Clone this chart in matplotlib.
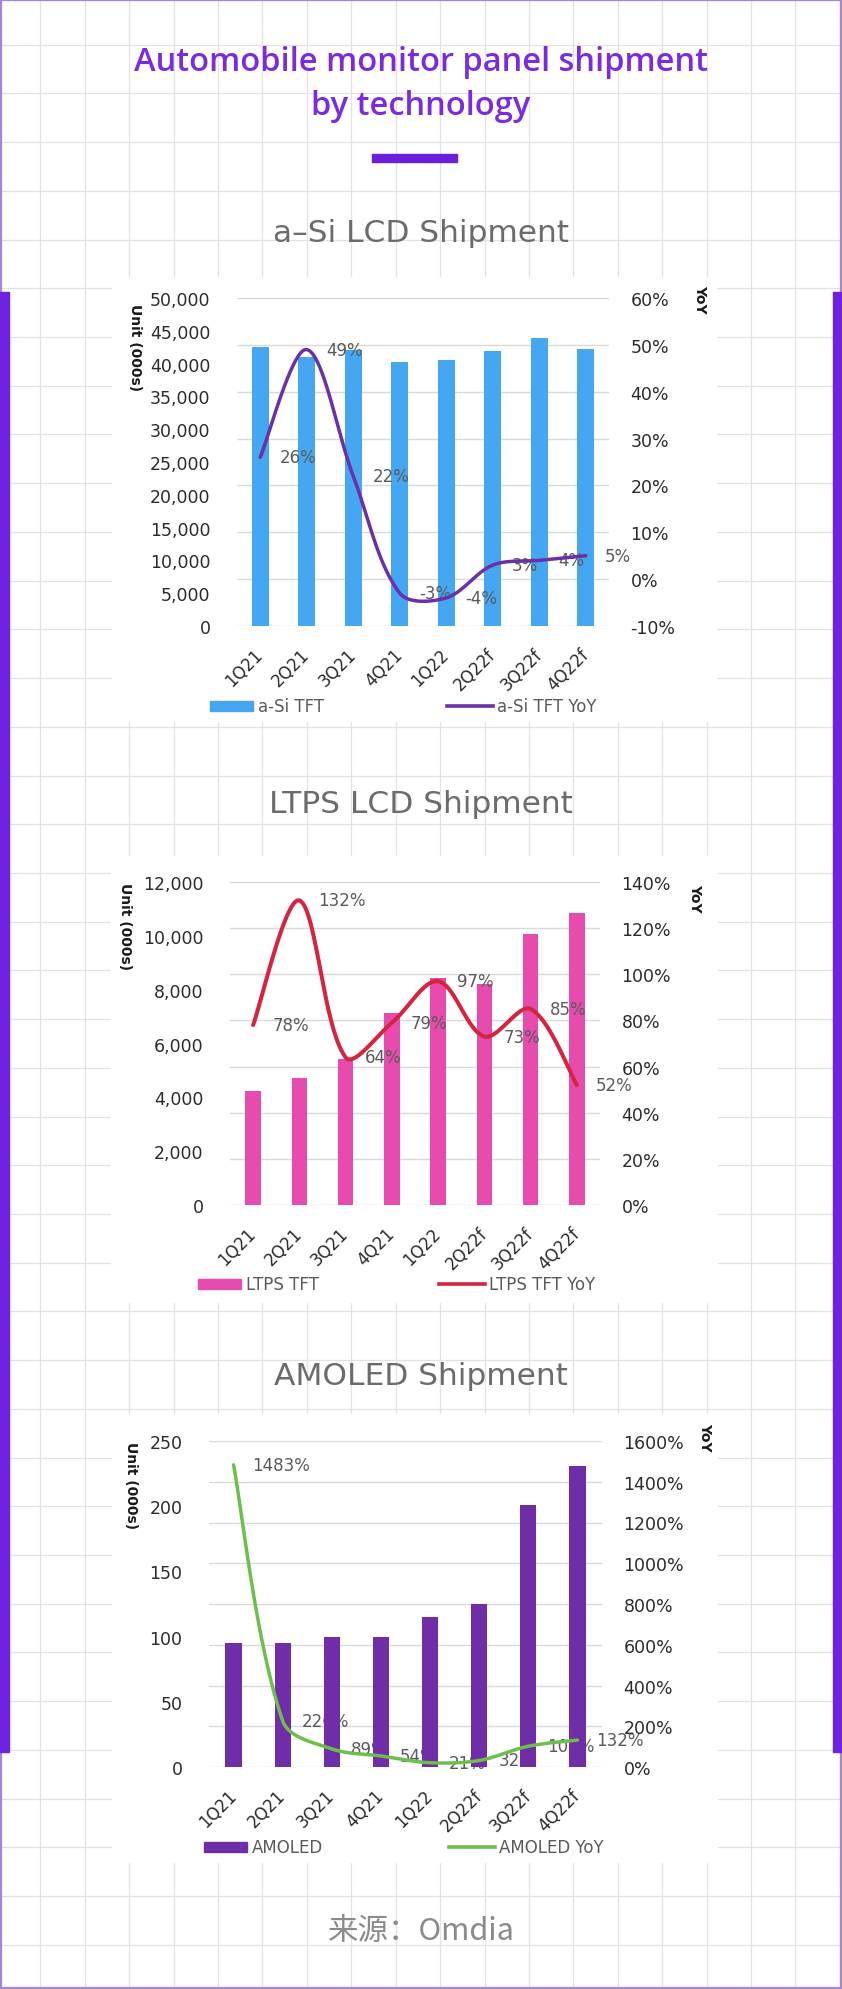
import numpy as np
import matplotlib
matplotlib.use("Agg")
import matplotlib.pyplot as plt
from matplotlib.patches import Rectangle

# quarters shared by the three panels
quarters = ["1Q21", "2Q21", "3Q21", "4Q21", "1Q22", "2Q22f", "3Q22f", "4Q22f"]

# a-Si LCD, units in 000s and YoY in %
asi_units = [42500, 41000, 42000, 40200, 40500, 41900, 43900, 42200]
asi_yoy = [26, 49, 22, -3, -4, 3, 4, 5]

# LTPS LCD
ltps_units = [4250, 4720, 5430, 7130, 8430, 8220, 10080, 10860]
ltps_yoy = [78, 132, 64, 79, 97, 73, 85, 52]

# AMOLED
amoled_units = [95, 95, 100, 100, 115, 125, 201, 231]
amoled_yoy = [1483, 226, 89, 54, 21, 32, 102, 132]

W, H = 842, 1990
fig = plt.figure(figsize=(W / 100, H / 100), dpi=100)

# background layer in pixel coords
bg = fig.add_axes([0, 0, 1, 1])
bg.set_xlim(0, W)
bg.set_ylim(H, 0)
bg.axis("off")
for x in np.arange(40.3, W, 44.42):
    bg.plot([x, x], [0, H], color="#e2e2e2", lw=0.9, zorder=0)
for y in np.arange(45.7, H, 48.72):
    bg.plot([0, W], [y, y], color="#e2e2e2", lw=0.9, zorder=0)

bg.add_patch(Rectangle((1, 1), W - 2, H - 2, fill=False, ec="#a584dc", lw=1.6, zorder=1))
bg.add_patch(Rectangle((0, 293), 9, 1460, color="#6e22dd", zorder=2))
bg.add_patch(Rectangle((833, 293), 9, 1460, color="#6e22dd", zorder=2))

title_lines = ["Automobile monitor panel shipment", "by technology"]
for i, line in enumerate(title_lines):
    bg.text(421, 71 + 44 * i, line, ha="center", va="baseline", fontsize=23.5,
            family="Open Sans", fontweight="semibold", color="#7a2be2")
bg.add_patch(Rectangle((372, 155), 85, 8, color="#6a1fd9", zorder=2))

bg.text(421, 1940, "来源：Omdia", ha="center", va="baseline", fontsize=22,
        family=["Noto Sans CJK SC", "DejaVu Sans"], color="#8a8a8a")


def smooth(ys, sx, sy, n=40):
    # bezier through the points, tangents weighted by segment length (pixel space)
    p = np.column_stack([np.arange(len(ys)) * sx, np.asarray(ys, float) * sy])
    out = []
    for i in range(len(p) - 1):
        p1, p2 = p[i], p[i + 1]
        p0 = p[i - 1] if i > 0 else p1
        p3 = p[i + 2] if i + 2 < len(p) else p2
        l01 = np.hypot(*(p1 - p0))
        l12 = np.hypot(*(p2 - p1))
        l23 = np.hypot(*(p3 - p2))
        if l01 == 0:
            l01 = l12
        if l23 == 0:
            l23 = l12
        c1 = p1 + (p2 - p0) * l12 / (l01 + l12) / 3
        c2 = p2 - (p3 - p1) * l12 / (l12 + l23) / 3
        t = np.linspace(0, 1, n)[:, None]
        seg = (1 - t) ** 3 * p1 + 3 * (1 - t) ** 2 * t * c1 + 3 * (1 - t) * t ** 2 * c2 + t ** 3 * p2
        out.append(seg if i == 0 else seg[1:])
    out = np.vstack(out)
    return out[:, 0] / sx, out[:, 1] / sy


def panel(box, title, title_base, units, yoy, names, bar_color, line_color,
          ymax, ystep, rmin, rmax, rstep, bar_w, lw, white, unit_xy, yoy_xy,
          legend_y, legend_x, labels_under=False):
    x0, y0, x1, y1 = box
    bg.add_patch(Rectangle((white[0], white[1]), white[2] - white[0], white[3] - white[1],
                           color="white", zorder=1))
    bg.text(421, title_base, title, ha="center", va="baseline", fontsize=22.5, color="#6b6b6b")

    ax = fig.add_axes([x0 / W, 1 - y1 / H, (x1 - x0) / W, (y1 - y0) / H])
    ax.patch.set_visible(False)
    xs = np.arange(len(quarters))
    ax.bar(xs, units, width=bar_w, color=bar_color, zorder=2)
    ax.set_xlim(-0.5, len(quarters) - 0.5)
    ax.set_ylim(0, ymax)
    for r in np.arange(rmin, rmax + rstep / 2, rstep):
        ax.axhline((r - rmin) / (rmax - rmin) * ymax, color="#d9d9d9", lw=1, zorder=0)
    ax.set_yticks(np.arange(0, ymax + ystep / 2, ystep))
    ax.set_yticklabels([f"{v:,.0f}" for v in np.arange(0, ymax + ystep / 2, ystep)])
    ax.set_xticks(xs)
    ax.set_xticklabels(quarters, rotation=45, ha="right", va="center", rotation_mode="anchor")
    ax.tick_params(axis="y", length=0, pad=19, labelsize=12.5, labelcolor="#2b2b2b")
    ax.tick_params(axis="x", length=0, pad=18, labelsize=12, labelcolor="#2b2b2b")
    for s in ax.spines.values():
        s.set_visible(False)

    ax2 = ax.twinx()
    ax2.set_ylim(rmin, rmax)
    ax2.set_yticks(np.arange(rmin, rmax + rstep / 2, rstep))
    ax2.set_yticklabels([f"{v:.0f}%" for v in np.arange(rmin, rmax + rstep / 2, rstep)])
    ax2.tick_params(axis="y", length=0, pad=15.5, labelsize=12.5, labelcolor="#2b2b2b")
    for s in ax2.spines.values():
        s.set_visible(False)
    cx, cy = smooth(yoy, (x1 - x0) / len(quarters), (y1 - y0) / (rmax - rmin))
    ax2.plot(cx, cy, color=line_color, lw=lw, solid_capstyle="round", zorder=3)
    target = ax if labels_under else ax2
    for i, v in enumerate(yoy):
        target.annotate(f"{v}%", (i, v), xycoords=ax2.transData, xytext=(13.7, 0),
                        textcoords="offset points", ha="left", va="center",
                        fontsize=12, color="#5a5a5a", zorder=1)

    bg.text(unit_xy[0], unit_xy[1], "Unit (000s)", rotation=270, ha="center", va="top",
            fontsize=10, fontweight="bold", color="#1a1a1a")
    bg.text(yoy_xy[0], yoy_xy[1], "YoY", rotation=270, ha="center", va="center",
            fontsize=10, fontweight="bold", color="#1a1a1a")

    # legend
    lx = legend_x
    bg.add_patch(Rectangle((lx[0], legend_y - 5), 43, 10, color=bar_color, zorder=3))
    bg.text(lx[0] + 48, legend_y, names[0], va="center", fontsize=12, color="#5a5a5a")
    bg.plot([lx[1], lx[1] + 46], [legend_y, legend_y], color=line_color, lw=2.6, zorder=3)
    bg.text(lx[1] + 50, legend_y, names[1], va="center", fontsize=12, color="#5a5a5a")
    return ax, ax2


panel((237, 299, 609, 627), "a\u2013Si LCD Shipment", 242, asi_units, asi_yoy,
      ["a-Si TFT", "a-Si TFT YoY"], "#45a6f2", "#6b2fa8",
      50000, 5000, -10, 60, 10, 0.36, 2.5, (112, 278, 716, 722),
      (135, 304), (700, 299), 707, (210, 447))

panel((230, 883, 600, 1206), "LTPS LCD Shipment", 813, ltps_units, ltps_yoy,
      ["LTPS TFT", "LTPS TFT YoY"], "#e84bae", "#d6233f",
      12000, 2000, 0, 140, 20, 0.33, 2.9, (111, 857, 717, 1303),
      (125, 883), (695, 898), 1285, (198, 439))

panel((209, 1442, 602, 1768), "AMOLED Shipment", 1385, amoled_units, amoled_yoy,
      ["AMOLED", "AMOLED YoY"], "#6f2da8", "#6cbf4b",
      250, 50, 0, 1600, 200, 0.33, 2.5, (112, 1415, 717, 1863),
      (131, 1442), (705, 1437), 1848, (204, 449), labels_under=True)

fig.savefig("out.png", dpi=100)
